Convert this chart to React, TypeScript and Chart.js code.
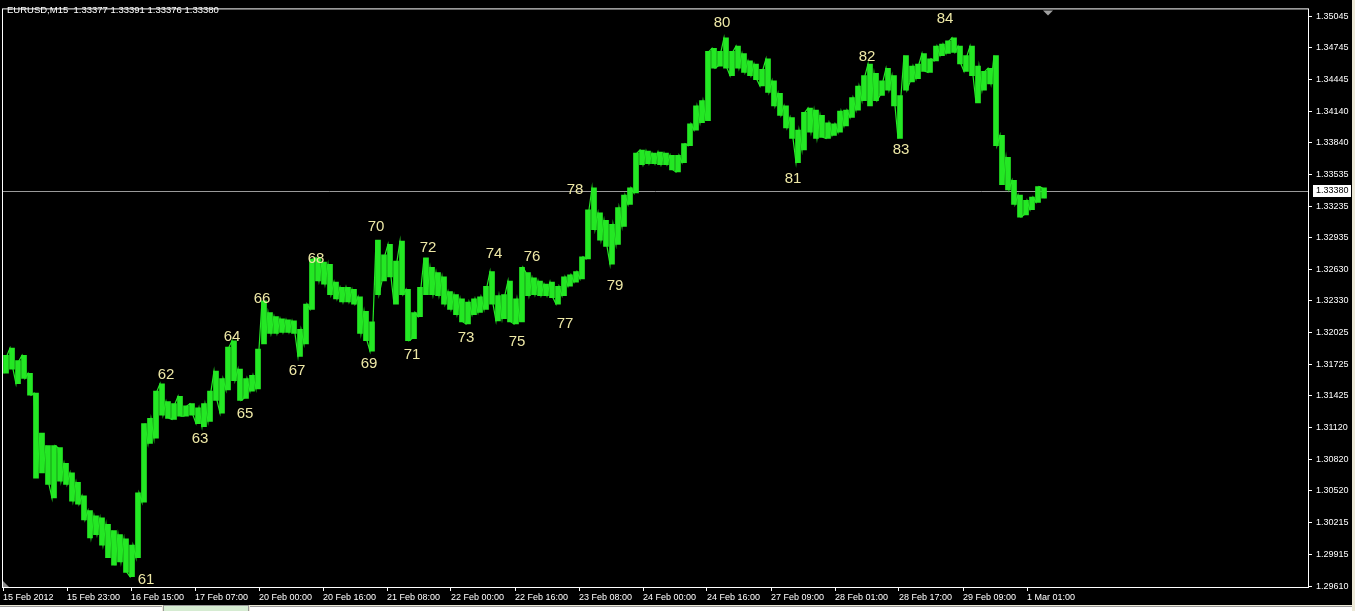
import React, { useEffect, useRef } from "react";
import { Chart, registerables } from "chart.js";

Chart.register(...registerables);

const symbolTitle = "EURUSD,M15  1.33377 1.33391 1.33376 1.33380";

// each sample covers 6 M15 bars (1.5 hours)
const barsPerSample = 6;

const sampleHigh = [
  1.3181, 1.3188, 1.3176, 1.3181, 1.3164, 1.3145, 1.3107, 1.3095, 1.3095, 1.3093,
  1.3078, 1.3069, 1.306, 1.3047, 1.3033, 1.3028, 1.3026, 1.302, 1.3014, 1.301,
  1.3006, 1.3, 1.305, 1.3116, 1.3121, 1.3147, 1.3154, 1.3137, 1.3135, 1.3142,
  1.3133, 1.3135, 1.3131, 1.3135, 1.3147, 1.3166, 1.3159, 1.3189, 1.3195, 1.3168,
  1.3159, 1.3162, 1.3187, 1.3233, 1.3222, 1.3218, 1.3216, 1.3215, 1.3214, 1.3206,
  1.323, 1.3273, 1.3274, 1.327, 1.3268, 1.3251, 1.3246, 1.3246, 1.3244, 1.3237,
  1.3223, 1.3213, 1.3291, 1.3277, 1.3287, 1.3271, 1.329, 1.3244, 1.3222, 1.3246,
  1.3274, 1.3265, 1.326, 1.3256, 1.3242, 1.3239, 1.3235, 1.3232, 1.3235, 1.3237,
  1.3247, 1.3261, 1.3238, 1.3239, 1.3252, 1.3235, 1.3265, 1.326, 1.3255, 1.3252,
  1.3249, 1.3251, 1.3247, 1.3256, 1.3258, 1.3261, 1.3275, 1.332, 1.3341, 1.3317,
  1.331, 1.3306, 1.3322, 1.3334, 1.3341, 1.3374, 1.3377, 1.3376, 1.3374, 1.3375,
  1.3374, 1.3372, 1.3372, 1.3383, 1.3402, 1.3419, 1.3424, 1.3471, 1.3474, 1.3471,
  1.3484, 1.3471, 1.3476, 1.3469, 1.3462, 1.3459, 1.3454, 1.3464, 1.3443, 1.3431,
  1.3419, 1.3408, 1.3396, 1.3413, 1.3417, 1.3415, 1.341, 1.3403, 1.3402, 1.3414,
  1.3415, 1.3427, 1.3438, 1.3448, 1.3459, 1.345, 1.3443, 1.3455, 1.3448, 1.3429,
  1.3467, 1.3457, 1.3459, 1.3469, 1.3464, 1.3476, 1.3478, 1.3481, 1.3484, 1.3476,
  1.3467, 1.3476, 1.3457, 1.3452, 1.3455, 1.3467, 1.3391, 1.337, 1.3348, 1.3334,
  1.3329, 1.3332, 1.3342, 1.3341,
];

const sampleLow = [
  1.3164, 1.3168, 1.3154, 1.3159, 1.3143, 1.3064, 1.3069, 1.3058, 1.3045, 1.3061,
  1.3058, 1.3042, 1.3039, 1.3024, 1.3007, 1.301, 1.3, 1.2988, 1.2981, 1.2984,
  1.2974, 1.297, 1.2988, 1.3041, 1.3097, 1.3102, 1.3124, 1.3121, 1.312, 1.3123,
  1.3123, 1.3124, 1.3116, 1.3113, 1.3118, 1.3138, 1.3126, 1.3148, 1.3157, 1.3138,
  1.314, 1.3147, 1.3149, 1.3192, 1.3202, 1.3202, 1.3203, 1.3203, 1.3202, 1.318,
  1.3192, 1.3225, 1.3252, 1.3249, 1.3239, 1.3235, 1.3232, 1.3232, 1.323, 1.3202,
  1.3195, 1.3185, 1.3239, 1.3252, 1.3256, 1.323, 1.3239, 1.3195, 1.3197, 1.3218,
  1.3239, 1.3239, 1.3238, 1.323, 1.3225, 1.322, 1.3213, 1.3211, 1.322, 1.3222,
  1.3225, 1.323, 1.3214, 1.3216, 1.3213, 1.3211, 1.3213, 1.3238, 1.3239, 1.3238,
  1.3238, 1.3236, 1.323, 1.3238, 1.3247, 1.3251, 1.3254, 1.3273, 1.3301, 1.3291,
  1.3285, 1.3268, 1.3287, 1.3304, 1.3325, 1.3336, 1.3363, 1.3364, 1.3364, 1.3363,
  1.3363, 1.3358, 1.3356, 1.3365, 1.3381, 1.3396, 1.3403, 1.3405, 1.3455, 1.3457,
  1.3455, 1.3448, 1.3455, 1.3451, 1.3448, 1.3444, 1.3438, 1.3432, 1.3419, 1.341,
  1.3398, 1.3388, 1.3365, 1.3377, 1.3394, 1.3388, 1.3389, 1.3388, 1.3391, 1.3394,
  1.34, 1.3408, 1.3415, 1.3424, 1.3419, 1.3424, 1.3429, 1.3434, 1.3419, 1.3388,
  1.3434, 1.3442, 1.3445, 1.3452, 1.3451, 1.3462, 1.3467, 1.3469, 1.347, 1.3459,
  1.3452, 1.3448, 1.3422, 1.3434, 1.344, 1.3381, 1.3344, 1.3339, 1.3325, 1.3313,
  1.3315, 1.332, 1.3327, 1.3331,
];

const timeLabels = [
  "15 Feb 2012", "15 Feb 23:00", "16 Feb 15:00", "17 Feb 07:00", "20 Feb 00:00",
  "20 Feb 16:00", "21 Feb 08:00", "22 Feb 00:00", "22 Feb 16:00", "23 Feb 08:00",
  "24 Feb 00:00", "24 Feb 16:00", "27 Feb 09:00", "28 Feb 01:00", "28 Feb 17:00",
  "29 Feb 09:00", "1 Mar 01:00",
];
const barsPerTimeLabel = 64;

const priceTicks = [
  1.35045, 1.34745, 1.34445, 1.3414, 1.3384, 1.33535, 1.33235, 1.32935, 1.3263, 1.3233,
  1.32025, 1.31725, 1.31425, 1.3112, 1.3082, 1.3052, 1.30215, 1.29915, 1.2961,
];

const waveNames = [
  "61", "62", "63", "64", "65", "66", "67", "68", "69", "70", "71", "72",
  "73", "74", "75", "76", "77", "78", "79", "80", "81", "82", "83", "84",
];
const waveBars = [
  143, 163, 197, 229, 242, 259, 294, 313, 366, 373, 409, 425,
  463, 491, 514, 529, 562, 572, 612, 719, 790, 864, 898, 942,
];
const wavePrices = [
  1.2967, 1.3162, 1.3101, 1.3199, 1.3125, 1.3235, 1.3166, 1.3273, 1.3173, 1.3304, 1.3182, 1.3284,
  1.3198, 1.3278, 1.3194, 1.3275, 1.3211, 1.3339, 1.3247, 1.3498, 1.3349, 1.3466, 1.3377, 1.3502,
];

const lastPrice = 1.3338;
const shiftBar = 1045;
const priceMin = 1.29601;
const priceMax = 1.35111;
const barMax = 1305;

const smallFamily = '"Liberation Sans", Arial, sans-serif';
const tickFont = { family: smallFamily, size: 9 };
const barGreen = "rgb(36,232,36)";

export default function App() {
  const ref = useRef<HTMLCanvasElement | null>(null);

  useEffect(() => {
    document.body.style.margin = "0";
    const canvas = ref.current;
    if (!canvas) return;

    const ranges = sampleHigh.map((h, i) => ({
      x: i * barsPerSample + barsPerSample / 2,
      y: [sampleLow[i], h],
    }));

    const zig: { x: number; y: number }[] = [];
    for (let i = 0; i < sampleHigh.length; i++) {
      const mid = (sampleHigh[i] + sampleLow[i]) / 2;
      const nextMid =
        i + 1 < sampleHigh.length ? (sampleHigh[i + 1] + sampleLow[i + 1]) / 2 : mid;
      const up = nextMid > mid;
      zig.push({ x: i * barsPerSample + 1, y: up ? sampleLow[i] : sampleHigh[i] });
      zig.push({ x: i * barsPerSample + 4, y: up ? sampleHigh[i] : sampleLow[i] });
    }

    const overlay = {
      id: "mt4overlay",
      beforeDatasetsDraw(chart: any) {
        const { ctx, chartArea: a, scales } = chart;
        const py = Math.round(scales.y.getPixelForValue(lastPrice)) + 0.5;
        ctx.save();
        ctx.strokeStyle = "#9a9a9a";
        ctx.lineWidth = 1;
        ctx.beginPath();
        ctx.moveTo(a.left, py);
        ctx.lineTo(a.right, py);
        ctx.stroke();
        ctx.restore();
      },
      afterDraw(chart: any) {
        const { ctx, chartArea: a, scales } = chart;
        const xs = scales.x;
        const ys = scales.y;
        ctx.save();
        ctx.strokeStyle = "#ffffff";
        ctx.lineWidth = 1;
        ctx.strokeRect(a.left - 0.5, a.top - 0.5, a.right - a.left + 1, a.bottom - a.top + 1);

        ctx.fillStyle = "#eee8a6";
        ctx.font = '15px "Liberation Sans", Arial, sans-serif';
        ctx.textAlign = "center";
        ctx.textBaseline = "middle";
        for (let i = 0; i < waveNames.length; i++) {
          ctx.fillText(waveNames[i], xs.getPixelForValue(waveBars[i]), ys.getPixelForValue(wavePrices[i]));
        }

        const py = Math.round(ys.getPixelForValue(lastPrice));
        ctx.fillStyle = "#ffffff";
        ctx.fillRect(a.right + 5, py - 6, 38, 12);
        ctx.fillStyle = "#000000";
        ctx.font = "9px " + smallFamily;
        ctx.textAlign = "left";
        ctx.fillText(lastPrice.toFixed(5), a.right + 8, py);

        const sx = xs.getPixelForValue(shiftBar);
        ctx.fillStyle = "#a0a0a0";
        ctx.beginPath();
        ctx.moveTo(sx - 5, a.top + 1);
        ctx.lineTo(sx + 5, a.top + 1);
        ctx.lineTo(sx, a.top + 6);
        ctx.closePath();
        ctx.fill();

        ctx.fillStyle = "#8a8a8a";
        ctx.beginPath();
        ctx.moveTo(a.left, a.bottom - 6);
        ctx.lineTo(a.left, a.bottom);
        ctx.lineTo(a.left + 6, a.bottom);
        ctx.closePath();
        ctx.fill();
        ctx.restore();
      },
    };

    const chart = new Chart(canvas, {
      type: "bar",
      data: {
        datasets: [
          {
            type: "line",
            data: zig,
            borderColor: barGreen,
            borderWidth: 1.2,
            pointRadius: 0,
            tension: 0,
            fill: false,
          },
          {
            type: "bar",
            data: ranges,
            backgroundColor: barGreen,
            borderWidth: 0,
            barThickness: 5,
          },
        ],
      } as any,
      options: {
        animation: false,
        responsive: false,
        maintainAspectRatio: false,
        layout: { padding: { left: 3, top: 3, right: 0, bottom: 0 } },
        plugins: {
          legend: { display: false },
          tooltip: { enabled: false },
          title: { display: false },
        },
        scales: {
          x: {
            type: "linear",
            position: "bottom",
            min: 0,
            max: barMax,
            offset: false,
            afterBuildTicks: (s: any) => {
              s.ticks = timeLabels.map((_, k) => ({ value: k * barsPerTimeLabel }));
            },
            afterFit: (s: any) => {
              s.height = 18;
            },
            ticks: {
              autoSkip: false,
              maxRotation: 0,
              align: "start",
              color: "#ffffff",
              font: tickFont,
              padding: 1,
              callback: (_v: any, idx: number) => timeLabels[idx],
            },
            grid: {
              display: true,
              offset: false,
              drawOnChartArea: false,
              drawTicks: true,
              tickLength: 4,
              color: "#ffffff",
            },
            border: { display: false },
          },
          y: {
            type: "linear",
            position: "right",
            min: priceMin,
            max: priceMax,
            afterBuildTicks: (s: any) => {
              s.ticks = priceTicks.map((v) => ({ value: v }));
            },
            afterFit: (s: any) => {
              s.width = 44;
            },
            ticks: {
              autoSkip: false,
              color: "#ffffff",
              font: tickFont,
              padding: 4,
              callback: (v: any) => Number(v).toFixed(5),
            },
            grid: {
              display: true,
              drawOnChartArea: false,
              drawTicks: true,
              tickLength: 4,
              color: "#ffffff",
            },
            border: { display: false },
          },
        },
      } as any,
      plugins: [overlay],
    });

    return () => chart.destroy();
  }, []);

  return (
    <div style={{ position: "relative", width: 1355, height: 611, background: "#ece9d8", overflow: "hidden" }}>
      <canvas ref={ref} width={1352} height={605} style={{ position: "absolute", left: 0, top: 0, background: "#000" }} />
      <div
        style={{
          position: "absolute",
          left: 7,
          top: 3,
          color: "#ffffff",
          font: "9.5px " + smallFamily,
          lineHeight: "14px",
          whiteSpace: "pre",
        }}
      >
        {symbolTitle}
      </div>
      <div style={{ position: "absolute", left: 0, top: 606, width: 162, height: 5, background: "#ffffff", borderTop: "1px solid #9a9a9a", boxSizing: "border-box" }} />
      <div style={{ position: "absolute", left: 163, top: 605, width: 86, height: 6, background: "#d6ecd2", borderTop: "1px solid #9a9a9a", borderLeft: "1px solid #9a9a9a", borderRight: "1px solid #9a9a9a", boxSizing: "border-box" }} />
      <div style={{ position: "absolute", left: 250, top: 606, width: 1102, height: 5, background: "#ffffff", borderTop: "1px solid #9a9a9a", boxSizing: "border-box" }} />
    </div>
  );
}
